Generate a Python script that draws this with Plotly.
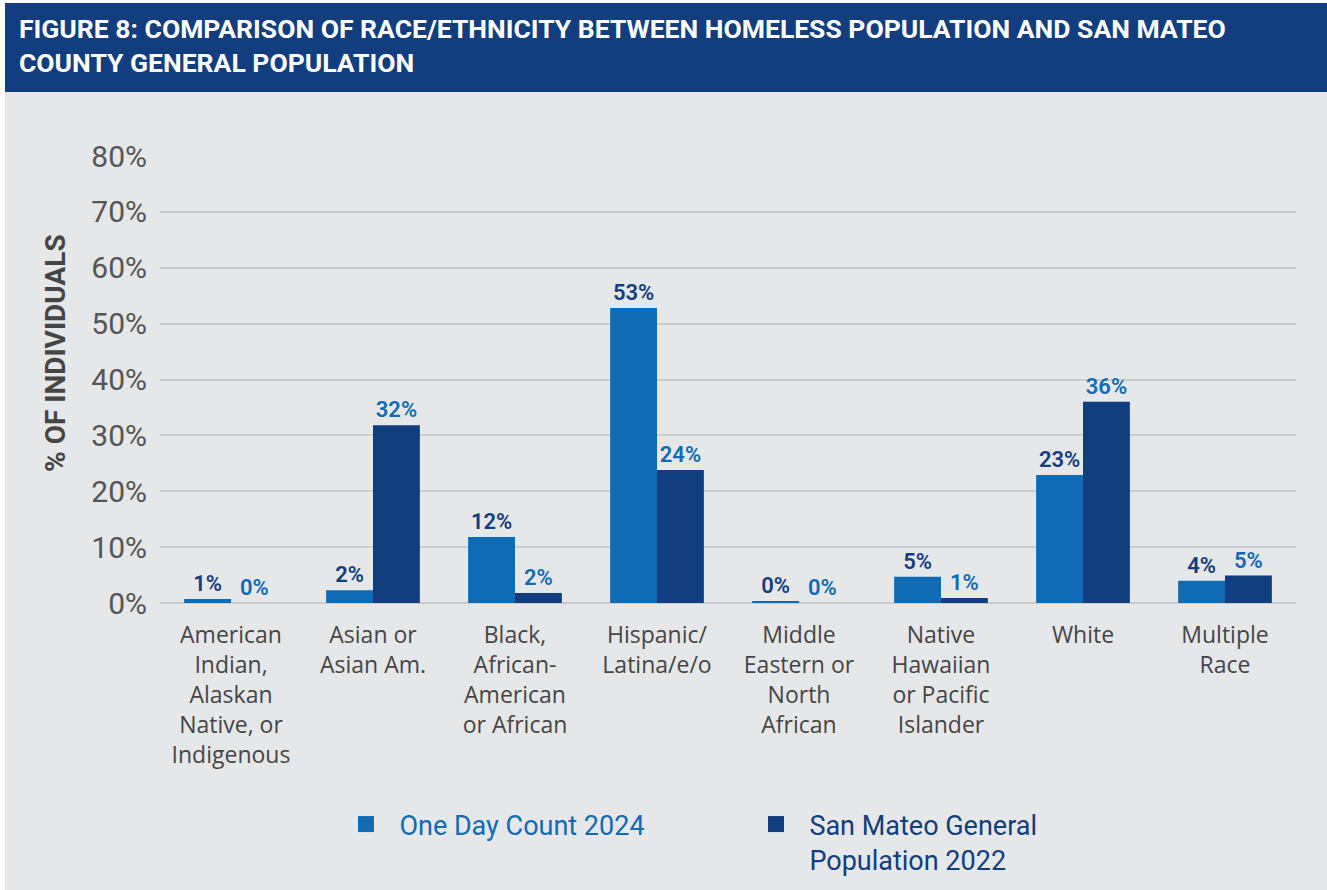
import plotly.graph_objects as go

# ── Data ────────────────────────────────────────────────────────────────
CATEGORIES = [
    "American<br>Indian,<br>Alaskan<br>Native, or<br>Indigenous",
    "Asian or<br>Asian Am.",
    "Black,<br>African-<br>American<br>or African",
    "Hispanic/<br>Latina/e/o",
    "Middle<br>Eastern or<br>North<br>African",
    "Native<br>Hawaiian<br>or Pacific<br>Islander",
    "White",
    "Multiple<br>Race",
]
ONE_DAY_2024 = [0.7, 2.3, 11.8, 52.8, 0.3, 4.7, 22.9, 4.0]
SAN_MATEO_2022 = [0.0, 31.8, 1.8, 23.8, 0.0, 0.9, 36.0, 4.9]
SERIES_NAMES = ["One Day Count 2024", "San Mateo General<br>Population 2022"]
Y_TICKS = [0, 10, 20, 30, 40, 50, 60, 70, 80]

COLORS = {
    "light": "#0e6bb4",
    "navy": "#123d7e",
    "bg": "#e6e7e9",
    "grid": "#cbcccd",
    "text": "#454545",
}
BASE = "Roboto, Liberation Sans, sans-serif"
WIDE = "Open Sans, Roboto, sans-serif"
NBSP = "\u00a0\u00a0"

x_idx = list(range(len(CATEGORIES)))

fig = go.Figure()
for vals, name, col, lab_col in [
    (ONE_DAY_2024, SERIES_NAMES[0], COLORS["light"], COLORS["navy"]),
    (SAN_MATEO_2022, SERIES_NAMES[1], COLORS["navy"], COLORS["light"]),
]:
    fig.add_trace(go.Bar(
        x=x_idx, y=vals, name=name, showlegend=False,
        marker=dict(color=col, line=dict(width=0)),
        texttemplate="%{y:.0f}%", textposition="outside", cliponaxis=False,
        textfont=dict(color=lab_col, size=22, family=BASE, weight=600),
    ))
    # legend swatch (bigger square than the default bar symbol), text in series colour
    lines = [f'<span style="color:{col}">{NBSP}{part}</span>' for part in name.split("<br>")]
    fig.add_trace(go.Scatter(
        x=[None], y=[None], mode="markers",
        name="<br>".join(lines),
        marker=dict(symbol="square", size=19, color=col),
    ))

L, R, T, B = 160, 31, 156, 287
W, H = 1327, 890
pw, ph = W - L - R, H - T - B


def px_x(p):
    return (p - L) / pw


def px_y(p):
    return (H - B - p) / ph


fig.update_layout(
    width=W, height=H,
    margin=dict(l=L, r=R, t=T, b=B, autoexpand=False),
    paper_bgcolor=COLORS["bg"], plot_bgcolor=COLORS["bg"],
    font=dict(family=BASE, color=COLORS["text"]),
    barmode="group", bargap=0.34, bargroupgap=0,
    showlegend=True,
    legend=dict(
        orientation="h", x=px_x(346), y=px_y(800), xanchor="left", yanchor="top",
        entrywidth=365, entrywidthmode="pixels",
        font=dict(family=BASE, size=27, color=COLORS["light"]),
        bgcolor="rgba(0,0,0,0)", traceorder="normal", valign="top",
        itemsizing="trace",
    ),
    shapes=[
        dict(type="rect", xref="paper", yref="paper",
             x0=px_x(-5), x1=px_x(5), y0=px_y(-5), y1=px_y(H + 5),
             fillcolor="white", line=dict(width=0), layer="below"),
        dict(type="rect", xref="paper", yref="paper",
             x0=px_x(5), x1=px_x(W + 5), y0=px_y(92), y1=px_y(3),
             fillcolor=COLORS["navy"], line=dict(width=0)),
        dict(type="rect", xref="paper", yref="paper",
             x0=px_x(5), x1=px_x(W + 5), y0=px_y(3), y1=px_y(-5),
             fillcolor="white", line=dict(width=0)),
    ],
    annotations=[
        dict(text="FIGURE 8: COMPARISON OF RACE/ETHNICITY BETWEEN HOMELESS POPULATION AND SAN MATEO<br>"
                  "COUNTY GENERAL POPULATION",
             xref="paper", yref="paper", x=px_x(17), y=px_y(45),
             xanchor="left", yanchor="middle", align="left", showarrow=False,
             font=dict(family=BASE, size=26.5, color="white", weight="bold")),
        dict(text="% OF INDIVIDUALS", textangle=-90,
             xref="paper", yref="paper", x=px_x(55), y=px_y(353),
             xanchor="center", yanchor="middle", showarrow=False,
             font=dict(family=BASE, size=28, color=COLORS["text"], weight="bold")),
    ],
)

fig.update_xaxes(
    tickvals=x_idx, ticktext=CATEGORIES, range=[-0.5, len(CATEGORIES) - 0.5],
    tickfont=dict(size=23, color=COLORS["text"], family=WIDE), ticks="", showgrid=False,
    showline=False, zeroline=False, ticklabelstandoff=16,
)
fig.update_yaxes(
    range=[0, 80], tickvals=Y_TICKS, ticktext=[f"{v}%" for v in Y_TICKS],
    tickfont=dict(size=30, color="#555555"), gridcolor=COLORS["grid"], gridwidth=1.5,
    zeroline=True, zerolinecolor=COLORS["grid"], zerolinewidth=1.5,
    ticklabelstandoff=12,
)

fig.write_html(
    "out.html",
    config={"displayModeBar": False},
    post_script="document.body.style.margin='0px';",
)
